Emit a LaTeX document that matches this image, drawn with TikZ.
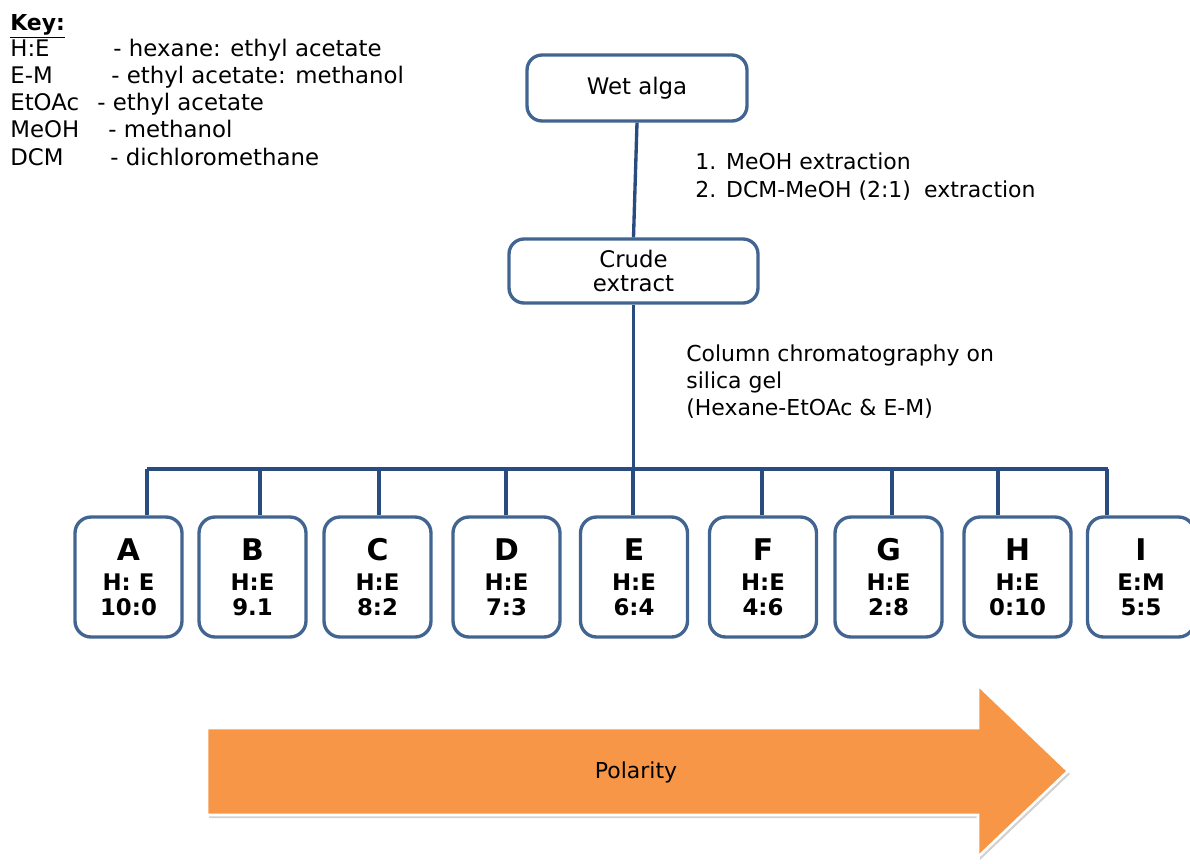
\documentclass[tikz,border=0pt]{standalone}
\usepackage{fontspec}
\setmainfont{DejaVu Sans}
\definecolor{boxblue}{RGB}{66,100,145}
\definecolor{lineblue}{RGB}{40,76,128}
\definecolor{polarorange}{RGB}{247,150,70}
\newcommand{\txtsize}{\fontsize{12.5}{15.5}\selectfont}

\begin{document}
\begin{tikzpicture}[x=0.02cm,y=-0.02cm,font=\txtsize,
    stage/.style={draw=boxblue,line width=1.9pt,rounded corners=0.3cm,align=center,
      font=\fontsize{13}{14.2}\selectfont},
    fraction/.style={draw=boxblue,line width=1.9pt,rounded corners=0.32cm,
      minimum width=2.14cm,minimum height=2.4cm,align=center,
      font=\bfseries\fontsize{13}{14.2}\selectfont},
    link/.style={draw=lineblue,line width=1.9pt},
    note/.style={inner sep=0pt,anchor=west,align=left}]
  \useasboundingbox (0,0) rectangle (1190,863);

  % key
  \node[anchor=base west,inner sep=0pt,font=\bfseries\txtsize] (key) at (10,30) {\underline{Key:}};
  \foreach \ab/\dx/\desc [count=\i] in {H:E/113/- hexane: ethyl acetate,
      E-M/111/- ethyl acetate: methanol, EtOAc/97/- ethyl acetate,
      MeOH/108/- methanol, DCM/110/- dichloromethane}
  {
    \node[anchor=base west,inner sep=0pt,font=\fontsize{13}{15.5}\selectfont] (ab\i) at (10,{56+27.3*(\i-1)}) {\ab};
    \node[anchor=base west,inner sep=0pt,font=\fontsize{13}{15.5}\selectfont] (def\i) at (\dx,{56+27.3*(\i-1)}) {\desc};
  }

  \node[stage,minimum width=4.4cm,minimum height=1.32cm] (wet) at (637,88) {Wet alga};
  \node[stage,minimum width=4.98cm,minimum height=1.28cm] (crude) at (633.5,271) {Crude\\extract};
  \draw[link] (wet.south) -- (crude.north);
  \node[note] (extraction) at (695,176.5)
    {1.\hspace{0.45em}MeOH extraction\\2.\hspace{0.45em}DCM-MeOH (2:1)\hspace{0.6em}extraction};

  \coordinate (barL) at (147,469);
  \coordinate (barR) at (1108,469);
  \draw[link] (crude.south) -- (crude.south |- barL);
  \draw[link] (barL) -- (barR);
  \node[note] (column) at (686,381.5)
    {Column chromatography on\\silica gel\\(Hexane-EtOAc \& E-M)};

  \foreach \fr/\cx/\lx/\solv/\ratio in {A/128.5/147/H: E/10:0, B/252.5/260/H:E/9.1,
      C/377.5/379/H:E/8:2, D/506.5/506/H:E/7:3, E/634/633/H:E/6:4, F/763/762/H:E/4:6,
      G/888.5/892/H:E/2:8, H/1017.5/998/H:E/0:10, I/1141/1107/E:M/5:5}
  {
    \node[fraction] (\fr) at (\cx,577) {{\fontsize{17}{17}\selectfont\fr}\\[3pt]\solv\\\ratio};
    \coordinate (t\fr) at (\lx,469);
    \draw[link] (t\fr) -- (t\fr |- \fr.north);
  }

  % polarity arrow
  \begin{scope}[shift={(2,3)}]
    \fill[black!18] (207,728) -- (978,728) -- (978,685) -- (1068,771) -- (978,857)
      -- (978,815) -- (207,815) -- cycle;
  \end{scope}
  \draw[white,line width=1.5pt,fill=polarorange] (207,728) -- (978,728) -- (978,685)
    -- (1068,771) -- (978,857) -- (978,815) -- (207,815) -- cycle;
  \node (polarity) at (636,772) {Polarity};
\end{tikzpicture}
\end{document}
